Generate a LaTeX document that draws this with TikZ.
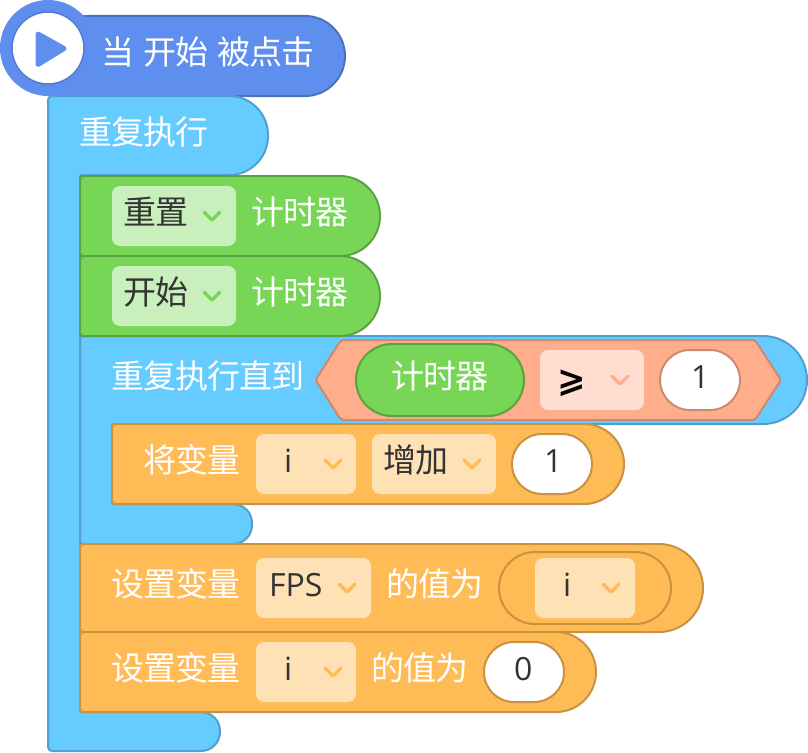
\documentclass[tikz,border=0pt]{standalone}
\usepackage{fontspec}
\setmainfont[LetterSpace=-3]{Noto Sans CJK SC}
\newfontfamily\symfont{DejaVu Sans}
\newfontfamily\latinfont{Open Sans}
\definecolor{blueF}{HTML}{66CCFF}\definecolor{blueS}{HTML}{4FA0CC}
\definecolor{greenF}{HTML}{78D657}\definecolor{greenS}{HTML}{5AA343}
\definecolor{orangeF}{HTML}{FFBB55}\definecolor{orangeS}{HTML}{C8923F}
\definecolor{hatF}{HTML}{5E8EEE}\definecolor{hatS}{HTML}{4B72BE}
\definecolor{salmonF}{HTML}{FFAD8A}\definecolor{salmonS}{HTML}{C98B70}
\definecolor{ddG}{HTML}{C9F0BC}\definecolor{ddO}{HTML}{FFE1B6}\definecolor{ddS}{HTML}{FFDDD0}
\definecolor{ink}{HTML}{333333}
\tikzset{
  blk/.style={line width=2pt,line join=round},
  lab/.style={inner sep=0pt,anchor=base west,font=\fontsize{33}{36}\selectfont,text=white},
  dark/.style={lab,text=ink},
  dlat/.style={lab,text=ink,font=\fontsize{32}{36}\selectfont\latinfont},
  drop/.style={rounded corners=8pt},
  pillw/.style={fill=white,line width=2pt,rounded corners=29.9pt},
  chev/.style={line width=3.2pt,line cap=round,line join=round},
}
\newcommand{\chevron}[3]{\draw[chev,#3] (#1-8,#2-4) -- (#1,#2+4) -- (#1+8,#2-4);}
\newcommand{\stackblk}[7]{% fill,stroke,l,t,r,b,radius
  \draw[blk,fill=#1,draw=#2] (#3,#6) [rounded corners=3pt] -- (#3,#4) [rounded corners=#7pt] -- (#5,#4) -- (#5,#6) [rounded corners=3pt] -- cycle;}
\begin{document}
\begin{tikzpicture}[x=1pt,y=-1pt]
\useasboundingbox (0,0) rectangle (808,752);
% hat
\draw[blk,fill=hatF,draw=hatS,rounded corners=40pt] (48,96) -- (48,16) -- (345,16) -- (345,96) -- cycle;
\fill[hatF] (48,48) circle[radius=48pt];
\fill[hatF] (48,17) rectangle (110,95);
\draw[line width=1.5pt,draw=hatS!60!hatF,fill=white] (48,48) circle[radius=36pt];
\fill[hatF,draw=hatF,line width=5pt,line join=round] (38,34) -- (64,48.5) -- (38,64.5) -- cycle;
% outer loop
\draw[blk,fill=blueF,draw=blueS] (48,751) [rounded corners=4pt] -- (48,96) [rounded corners=39pt] -- (268,96) -- (268,175) [rounded corners=2pt] -- (80,175) -- (80,712) [rounded corners=19pt] -- (220,712) -- (220,751) [rounded corners=4pt] -- cycle;
% inner loop
\draw[blk,fill=blueF,draw=blueS] (80,544) [rounded corners=3pt] -- (80,336) [rounded corners=44pt] -- (807,336) -- (807,424) [rounded corners=2pt] -- (112,424) -- (112,504) [rounded corners=19pt] -- (252,504) -- (252,544) [rounded corners=3pt] -- cycle;
% green
\stackblk{greenF}{greenS}{80}{176}{380}{256}{40}
\stackblk{greenF}{greenS}{80}{256}{380}{336}{40}
\fill[ddG,drop] (112,186) rectangle (236,246);
\fill[ddG,drop] (112,266) rectangle (236,326);
\chevron{212}{216}{greenF}
\chevron{212}{296}{greenF}
% hexagon
\draw[line width=2pt,line join=round,fill=salmonF,draw=salmonS] (315.5,380) [rounded corners=3pt] -- (341,340) -- (755,340) -- (781,380) -- (755,420) -- (341,420) -- cycle;
\draw[blk,fill=greenF,draw=greenS,rounded corners=35.9pt] (356,344) rectangle (524,416);
\fill[ddS,drop] (540,350) rectangle (644,410);
\chevron{620}{380}{salmonF}
\draw[pillw,draw=salmonS] (660,350) rectangle (740,410);
% orange change
\stackblk{orangeF}{orangeS}{112}{424}{624}{504}{40}
\fill[ddO,drop] (256,434) rectangle (356,494);
\chevron{333}{464}{orangeF}
\fill[ddO,drop] (372,434) rectangle (496,494);
\chevron{472}{464}{orangeF}
\draw[pillw,draw=orangeS] (512,434) rectangle (592,494);
% orange set FPS
\stackblk{orangeF}{orangeS}{80}{544}{703}{632}{44}
\fill[ddO,drop] (256,558) rectangle (371,618);
\chevron{347}{588}{orangeF}
\draw[blk,draw=orangeS,fill=orangeF,rounded corners=35.9pt] (499,552) rectangle (671,624);
\fill[ddO,drop] (535,558) rectangle (635,618);
\chevron{611}{588}{orangeF}
% orange set i
\stackblk{orangeF}{orangeS}{80}{632}{596}{712}{40}
\fill[ddO,drop] (256,642) rectangle (356,702);
\chevron{333}{672}{orangeF}
\draw[pillw,draw=orangeS] (484,642) rectangle (564,702);
% texts
\node[lab] (t1) at (101.5,64) {当\hspace{9pt}开始\hspace{9pt}被点击};
\node[lab] (t2) at (79.5,144) {重复执行};
\node[dark] (t3) at (123.5,224) {重置};
\node[lab] (t4) at (251.5,224) {计时器};
\node[dark] (t5) at (123.5,304) {开始};
\node[lab] (t6) at (251.5,304) {计时器};
\node[lab] (t7) at (111.5,388) {重复执行直到};
\node[lab] (t8) at (391.5,388) {计时器};
\node[lab,text=black,font=\fontsize{34}{36}\selectfont\bfseries\symfont] (t9) at (557,391) {⩾};
\node[dlat] (t10) at (691,388) {1};
\node[lab] (t11) at (143.5,472) {将变量};
\node[dlat] (t12) at (284,472) {i};
\node[dark] (t13) at (383.5,472) {增加};
\node[dlat] (t14) at (544,472) {1};
\node[lab] (t15) at (111.5,596) {设置变量};
\node[dlat] (t16) at (269,596) {FPS};
\node[lab] (t17) at (386.5,596) {的值为};
\node[dlat] (t18) at (563,596) {i};
\node[lab] (t19) at (111.5,680) {设置变量};
\node[dlat] (t20) at (284,680) {i};
\node[lab] (t21) at (371.5,680) {的值为};
\node[dlat] (t22) at (514,680) {0};
\end{tikzpicture}
\end{document}
